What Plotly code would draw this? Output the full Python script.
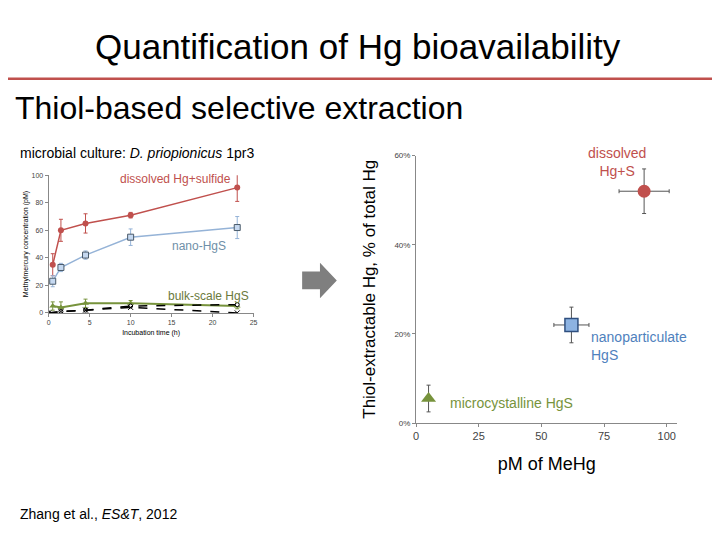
import plotly.graph_objects as go

# Left chart data
t = [0.5, 1.5, 4.5, 10, 23]
dissolved = [35, 60, 65, 71, 91]
dissolved_err = [8, 8, 7, 2, 10]
nano = [23, 33, 42, 55, 62]
nano_err = [4, 3, 3, 6, 8]
bulk = [5, 4, 7, 7, 5]
bulk_err = [3, 4, 3, 2, 2]
ctrl_t = [0, 1.5, 4.5, 10, 23]
ctrl1 = [0, 1, 2, 5, 6]
ctrl2 = [0, 1, 2, 4, 0]

# Right chart data
meHg = [91, 62, 5]
meHg_err = [10, 7, 0]
thiol = [0.52, 0.22, 0.055]
thiol_err = [0.05, 0.04, 0.03]
right_labels = ["dissolved<br>Hg+S", "nanoparticulate<br>HgS", "microcystalline HgS"]

RED = "#c0504d"; BLUE = "#4f81bd"; LBLUE = "#95b3d7"; GREEN = "#77933c"
OFF = 10
ax = lambda v: (v - OFF) / 720
ay = lambda v: 1 - (v - OFF) / 540

fig = go.Figure()
fig.add_trace(go.Scatter(x=t, y=dissolved, error_y=dict(array=dissolved_err, color=RED, width=2, thickness=1),
    mode="lines+markers", line=dict(color=RED, width=1.5), marker=dict(color=RED, size=6), xaxis="x", yaxis="y"))
fig.add_trace(go.Scatter(x=t, y=nano, error_y=dict(array=nano_err, color=LBLUE, width=2, thickness=1),
    mode="lines+markers", line=dict(color=LBLUE, width=1.5),
    marker=dict(color="#c6d9f1", symbol="square", size=6, line=dict(color="#4a5a6a", width=1)), xaxis="x", yaxis="y"))
fig.add_trace(go.Scatter(x=t, y=bulk, error_y=dict(array=bulk_err, color=GREEN, width=2, thickness=1),
    mode="lines+markers", line=dict(color=GREEN, width=2), marker=dict(color=GREEN, symbol="triangle-up", size=6), xaxis="x", yaxis="y"))
fig.add_trace(go.Scatter(x=ctrl_t, y=ctrl1, mode="lines+markers", line=dict(color="black", dash="dash", width=1.5),
    marker=dict(color="white", symbol="circle", size=4, line=dict(color="black", width=1)), xaxis="x", yaxis="y"))
fig.add_trace(go.Scatter(x=ctrl_t, y=ctrl2, mode="lines+markers", line=dict(color="black", dash="dash", width=1.5),
    marker=dict(color="black", symbol="x-thin", size=5, line=dict(color="black", width=1)), xaxis="x", yaxis="y"))

sym = ["circle", "square", "triangle-up"]
cols = [RED, "#8db3e2", GREEN]
for i in range(3):
    fig.add_trace(go.Scatter(x=[meHg[i]], y=[thiol[i]],
        error_x=dict(array=[meHg_err[i]], color="#555", width=2, thickness=1, visible=meHg_err[i] > 0),
        error_y=dict(array=[thiol_err[i]], color="#555", width=2, thickness=1),
        mode="markers", marker=dict(color=cols[i], symbol=sym[i], size=13,
        line=dict(color="#2f4f7f" if i == 1 else cols[i], width=1.5 if i == 1 else 0)),
        xaxis="x2", yaxis="y2"))

fig.update_layout(
    width=720, height=540, margin=dict(l=0, r=0, t=0, b=0), showlegend=False,
    plot_bgcolor="white", paper_bgcolor="white",
    font=dict(family="Liberation Sans, Arial", color="black"),
    xaxis=dict(domain=[ax(48), ax(255)], range=[0, 25], tickvals=[0, 5, 10, 15, 20, 25], showgrid=False,
               showline=True, linecolor="#888", ticks="outside", ticklen=3, tickcolor="#888",
               tickfont=dict(size=7, color="#444"), zeroline=False,
               title=dict(text="Incubation time (h)", font=dict(size=7), standoff=4)),
    yaxis=dict(domain=[ay(316), ay(176)], range=[0, 100], tickvals=[0, 20, 40, 60, 80, 100], showgrid=False,
               showline=True, linecolor="#888", ticks="outside", ticklen=3, tickcolor="#888",
               tickfont=dict(size=7, color="#444"), zeroline=False,
               title=dict(text="Methylmercury concentration (pM)", font=dict(size=7), standoff=2)),
    xaxis2=dict(domain=[ax(419), ax(683)], range=[0, 104.3], tickvals=[0, 25, 50, 75, 100], showgrid=False,
                showline=True, linecolor="#888", ticks="outside", ticklen=3, tickcolor="#888",
                tickfont=dict(size=11, color="#444"), zeroline=False, anchor="y2",
                title=dict(text="pM of MeHg", font=dict(size=18), standoff=16)),
    yaxis2=dict(domain=[ay(428), ay(156)], range=[0, 0.6], tickvals=[0, 0.2, 0.4, 0.6], tickformat=".0%",
                showgrid=False, showline=True, linecolor="#888", ticks="outside", ticklen=3, tickcolor="#888",
                tickfont=dict(size=8, color="#444"), zeroline=False, anchor="x2",
                title=dict(text="Thiol-extractable Hg, % of total Hg", font=dict(size=17), standoff=14)),
)

ann = [
    (360, 45, "Quantification of Hg bioavailability", 35, "center"),
    (12, 108, "Thiol-based selective extraction", 32, "left"),
    (17, 153, "microbial culture: <i>D. priopionicus</i> 1pr3", 14, "left"),
    (17, 521, "Zhang et al., <i>ES&T</i>, 2012", 14, "left"),
]
for px, py, txt, sz, xa in ann:
    fig.add_annotation(x=ax(px), y=ay(py), xref="paper", yref="paper", text=txt, showarrow=False,
                       xanchor=xa, yanchor="middle", font=dict(size=sz, color="black"))

left_lbl = [("dissolved Hg+sulfide", 176, 180, RED), ("nano-HgS", 200, 248, "#6f8fa8"), ("bulk-scale HgS", 209, 299, "#6b7a3c")]
for txt, px, py, c in left_lbl:
    fig.add_annotation(x=ax(px), y=ay(py), xref="paper", yref="paper", text=txt, showarrow=False,
                       xanchor="center", yanchor="middle", font=dict(size=12, color=c))
right_lbl = [(622, 163, "center", RED, right_labels[0]), (594, 350, "left", BLUE, right_labels[1]),
             (451, 408, "left", GREEN, right_labels[2])]
for px, py, xa, c, txt in right_lbl:
    fig.add_annotation(x=ax(px), y=ay(py), xref="paper", yref="paper", text=txt, showarrow=False,
                       xanchor=xa, yanchor="middle", align=xa, font=dict(size=14, color=c))

fig.add_shape(type="line", xref="paper", yref="paper", x0=ax(0), x1=1, y0=ay(78), y1=ay(78),
              line=dict(color="#c0504d", width=2.5))
path = (f"M {ax(304)} {ay(274)} L {ax(322)} {ay(274)} L {ax(322)} {ay(265)} L {ax(339)} {ay(283)} "
        f"L {ax(322)} {ay(301)} L {ax(322)} {ay(292)} L {ax(304)} {ay(292)} Z")
fig.add_shape(type="path", xref="paper", yref="paper", path=path, fillcolor="#7f7f7f", line=dict(width=0))

fig.write_html("out.html")
